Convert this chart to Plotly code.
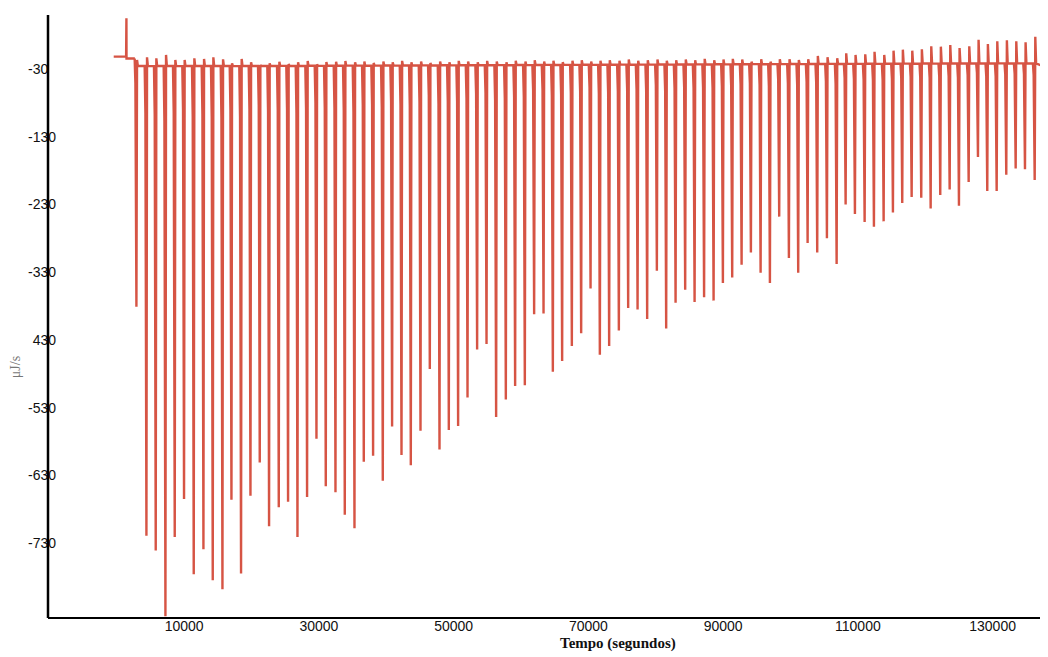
import plotly.graph_objects as go

# ---- data (ITC thermogram) ----
# pre-titration segment: time (s), heat rate (uJ/s)
pre_time = [-460, 1380, 1425, 1440, 2680]
pre_value = [-11.8, -11.8, 44.8, -14.5, -14.5]

# injection times (s)
peak_time = [2910, 4395, 5776, 7216, 8597, 9978, 11418, 12858, 14239, 15679,
             17016, 18441, 19837, 21218, 22599, 24039, 25419, 26815, 28241, 29636,
             31017, 32457, 33838, 35278, 36659, 38040, 39480, 40861, 42257, 43638,
             45078, 46459, 47899, 49280, 50661, 52056, 53482, 54878, 56303, 57743,
             59124, 60564, 61945, 63341, 64722, 66102, 67543, 68924, 70319, 71700,
             73081, 74521, 75902, 77298, 78723, 80163, 81544, 82940, 84365, 85761,
             87171, 88582, 89963, 91344, 92740, 94120, 95561, 96941, 98322, 99762,
             101143, 102539, 103964, 105405, 106845, 108181, 109562, 111002, 112383, 113823,
             115204, 116585, 117981, 119406, 120802, 122227, 123623, 125004, 126444, 127825,
             129206, 130601, 132027, 133422, 134803, 136244]

# minimum of each injection peak (uJ/s)
peak_min = [-381, -719, -741, -838, -721, -665, -776, -739, -785, -798,
            -666, -775, -660, -611, -705, -677, -669, -721, -662, -576,
            -646, -655, -688, -708, -610, -601, -638, -558, -600, -615,
            -564, -473, -592, -563, -557, -515, -444, -436, -544, -518,
            -498, -497, -392, -391, -477, -461, -439, -420, -354, -452,
            -439, -416, -383, -385, -399, -328, -413, -375, -356, -374,
            -367, -372, -346, -338, -319, -301, -331, -346, -248, -309,
            -331, -287, -301, -280, -318, -230, -244, -256, -263, -255,
            -242, -228, -219, -220, -236, -216, -208, -232, -197, -160,
            -210, -210, -186, -177, -178, -194]

# small overshoot after each injection (uJ/s)
peak_top = [-16.7, -12.7, -14.2, -9.3, -16.7, -16.7, -14.2, -15.2, -12.7, -15.7,
            -21.6, -15.2, -20.1, -24.1, -21.6, -19.2, -22.6, -20.1, -18.2, -23.1,
            -19.7, -19.2, -18.2, -20.0, -19.0, -21.0, -19.0, -20.0, -18.0, -20.0,
            -19.0, -21.0, -19.0, -20.0, -18.0, -19.0, -20.0, -18.0, -19.0, -20.0,
            -18.0, -19.0, -17.0, -19.0, -18.0, -20.0, -18.0, -17.0, -19.0, -18.0,
            -17.0, -18.0, -16.0, -18.0, -17.0, -16.0, -18.0, -17.0, -16.0, -17.0,
            -15.0, -17.0, -16.0, -15.0, -16.0, -19.2, -15.7, -19.2, -15.7, -15.7,
            -16.7, -15.7, -10.8, -12.7, -14.2, -6.8, -9.3, -8.3, -4.5, -9.3,
            -3.0, -1.5, -3.0, -0.9, 3.5, 3.0, 5.4, 1.0, 3.5, 13.0,
            6.7, 10.8, 12.3, 11.0, 9.4, 17.7]

# baseline level reached after each injection (uJ/s)
peak_base = [-25.6, -25.8, -25.6, -25.5, -25.8, -25.6, -25.7, -25.6, -25.5, -25.6,
             -25.8, -25.6, -25.5, -25.7, -25.6, -25.4, -25.6, -25.5, -25.3, -25.4,
             -25.2, -25.3, -25.1, -25.0, -25.2, -25.0, -24.9, -25.0, -24.8, -24.9,
             -24.7, -24.8, -24.6, -24.7, -24.5, -24.6, -24.4, -24.5, -24.3, -24.4,
             -24.2, -24.3, -24.1, -24.0, -24.1, -23.9, -24.0, -23.8, -23.9, -23.7,
             -23.8, -23.6, -23.7, -23.5, -23.6, -23.4, -23.5, -23.3, -23.4, -23.2,
             -23.3, -23.1, -23.2, -23.0, -23.1, -22.9, -23.0, -22.8, -22.9, -22.7,
             -22.8, -22.6, -22.7, -22.5, -22.6, -22.4, -22.5, -22.3, -22.4, -22.2,
             -22.3, -22.1, -22.2, -22.0, -22.1, -21.9, -22.0, -21.8, -21.9, -21.8,
             -21.9, -21.7, -21.8, -21.7, -21.8, -21.7]

end_time = [137500]
end_value = [-26.0]

y_tick_vals = [-30, -130, -230, -330, -430, -530, -630, -730]
y_tick_text = ["-30\u00a0\u00a0", "-130", "-230", "-330", "430", "-530", "-630", "-730"]
x_tick_vals = [10000, 30000, 50000, 70000, 90000, 110000, 130000]
x_tick_text = ["10000", "30000", "50000", "70000", "90000", "110000", "130000"]

# ---- build the thermogram polyline from the per-injection readings ----
xs = list(pre_time)
ys = list(pre_value)
prev = pre_value[-1]
for t, mn, tp, b in zip(peak_time, peak_min, peak_top, peak_base):
    xs += [t - 260, t - 150, t, t + 90, t + 210]
    ys += [prev, prev + 0.1 * (mn - prev), mn, tp, b]
    prev = b
xs += end_time
ys += end_value

fig = go.Figure()
fig.add_trace(go.Scatter(x=xs, y=ys, mode="lines",
                         line=dict(color="#D65444", width=2.4),
                         hoverinfo="skip", showlegend=False))

# the page body adds an 8 px offset, so the figure is 8 px smaller on each side
fig.update_layout(
    width=1040, height=649,
    margin=dict(l=40, r=0, t=7, b=38.7, autoexpand=False),
    paper_bgcolor="white", plot_bgcolor="white",
    font=dict(family="Liberation Sans, Arial, sans-serif", size=14, color="#111"),
    showlegend=False,
)
# axes placed slightly inside so their labels sit close to the drawn axis lines
fig.update_xaxes(
    range=[-10215, 138220], automargin=False, domain=[0, 1],
    anchor="free", position=0.0033,
    showgrid=False, zeroline=False, showline=False,
    tickmode="array", tickvals=x_tick_vals, ticktext=x_tick_text,
    ticks="",
    tickfont=dict(size=14, color="#111"),
)
fig.update_yaxes(
    range=[-840.6, 49.7], automargin=False, domain=[0, 1],
    anchor="free", position=0.008,
    showgrid=False, zeroline=False, showline=False,
    tickmode="array", tickvals=y_tick_vals, ticktext=y_tick_text,
    ticks="",
    tickfont=dict(size=14, color="#111"),
)

# axis lines
fig.add_shape(type="line", xref="paper", yref="paper", x0=0, x1=0, y0=0, y1=1,
              line=dict(color="black", width=2.5), layer="above")
fig.add_shape(type="line", xref="paper", yref="paper", x0=0, x1=1, y0=0, y1=0,
              line=dict(color="black", width=2), layer="above")

fig.add_annotation(
    text="<b>Tempo (segundos)</b>", xref="paper", yref="paper",
    x=0.5695, y=-0.0415, xanchor="center", yanchor="middle", showarrow=False,
    font=dict(family="Liberation Serif, Times New Roman, serif", size=15, color="#111"),
)
fig.add_annotation(
    text="μJ/s", xref="paper", yref="paper",
    x=-0.033, y=0.416, xanchor="center", yanchor="middle", showarrow=False,
    textangle=-90,
    font=dict(family="Liberation Serif, Times New Roman, serif", size=14, color="#777"),
)

fig.write_html("out.html")
